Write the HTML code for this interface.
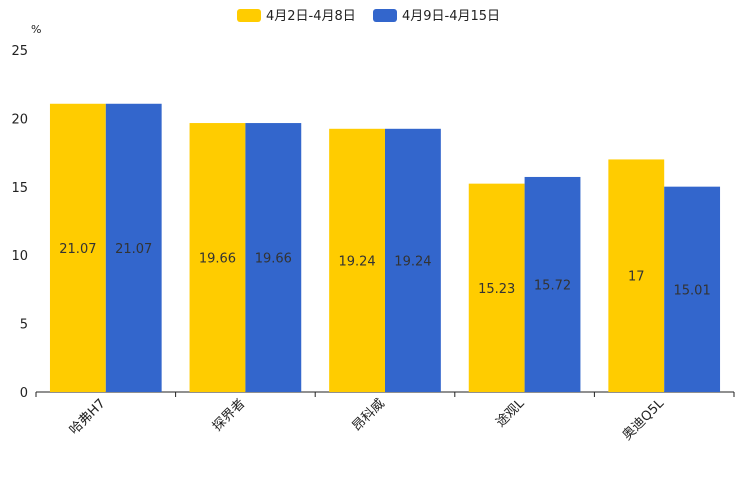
<!DOCTYPE html>
<html><head><meta charset="utf-8"><style>
body{margin:0;background:#fff}
svg text{font-family:"DejaVu Sans","Liberation Sans","Noto Sans CJK SC",sans-serif;}
</style></head><body>
<svg id="chart" width="744" height="496" xmlns="http://www.w3.org/2000/svg">
<g>
<g><rect x="237" y="9" width="24" height="13" rx="3" fill="#ffcc00"/><text x="266" y="20" font-size="13" fill="#222">4月2日-4月8日</text></g>
<g><rect x="373" y="9" width="24" height="13" rx="3" fill="#3366cc"/><text x="402" y="20" font-size="13" fill="#222">4月9日-4月15日</text></g>
</g>
<text x="31" y="33" font-size="11" fill="#222">%</text>
<g id="plot"></g>
</svg>
<script>
const categories=["哈弗H7","探界者","昂科威","途观L","奥迪Q5L"];
const series1=[21.07,19.66,19.24,15.23,17];
const series2=[21.07,19.66,19.24,15.72,15.01];
const yTicks=[0,5,10,15,20,25];
const NS="http://www.w3.org/2000/svg";
const g=document.getElementById('plot');
const x0=36,x1=734,y0=392,y25=50;
const y=v=>y0-(v/25)*(y0-y25);
const band=(x1-x0)/categories.length;
const bx=i=>x0+i*band;
function el(t,a,p){const e=document.createElementNS(NS,t);for(const k in a)e.setAttribute(k,a[k]);(p||g).appendChild(e);return e;}
yTicks.forEach(v=>{const t=el('text',{x:28,y:y(v)+5,'text-anchor':'end','font-size':13,fill:'#222'});t.textContent=v;

});
const ax=el('line',{x1:x0,x2:x1,y1:y0,y2:y0,stroke:'#222','stroke-width':1});


for(let i=0;i<=categories.length;i++){const tk=el('line',{x1:bx(i),x2:bx(i),y1:y0,y2:y0+5,stroke:'#222'});

}
const bw=band*0.4;
categories.forEach((c,i)=>{
 [[series1,'#ffcc00',0],[series2,'#3366cc',1]].forEach(([s,col,k])=>{
  const xs=bx(i)+band*0.1+k*bw;
  const r=el('rect',{x:xs,y:y(s[i]),width:bw,height:y0-y(s[i]),fill:col});
  
  
  const t=el('text',{x:xs+bw/2,y:(y(s[i])+y0)/2+5,'text-anchor':'middle','font-size':13,fill:'#333'});
  t.textContent=s[i];
  
  
 });
 const cx=bx(i)+band/2;
 const l=el('text',{x:cx,y:y0+12,'text-anchor':'end','font-size':13,fill:'#222',transform:`rotate(-45 ${cx} ${y0+12})`});
 l.textContent=c;
 
 
});
</script>
</body></html>
